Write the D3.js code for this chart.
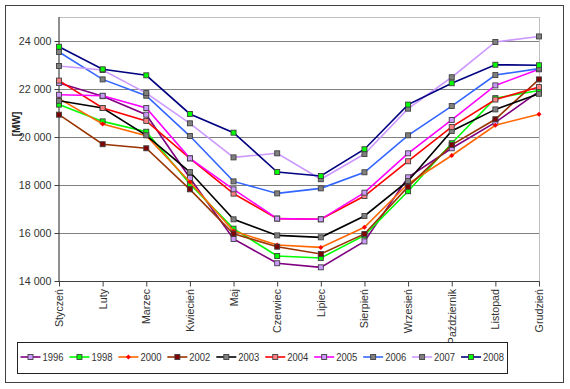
<!DOCTYPE html>
<html><head><meta charset="utf-8">
<script src="https://cdn.jsdelivr.net/npm/d3@7"></script>
<style>
html,body{margin:0;padding:0;background:#fff;}
svg{display:block;font-family:"Liberation Sans",Arial,sans-serif;}
</style></head>
<body>
<svg id="chart" width="570" height="389"></svg>
<script>
const months = ["Styczeń","Luty","Marzec","Kwiecień","Maj","Czerwiec","Lipiec","Sierpień","Wrzesień","Październik","Listopad","Grudzień"];
const yTicks = [14000,16000,18000,20000,22000,24000];
const seriesNames = ["1996","1998","2000","2002","2003","2004","2005","2006","2007","2008"];
const y1996 = [22250,21700,20930,18290,15750,14740,14570,15650,18320,19530,20610,21900];
const y1998 = [21350,20650,20220,18040,16180,15040,14960,15900,17740,19740,21620,21940];
const y2000 = [21600,20540,20050,18125,16080,15500,15400,16240,18050,19230,20490,20950];
const y2002 = [20930,19700,19530,17820,15970,15430,15125,15960,17930,19670,20740,22400];
const y2003 = [21510,21210,20070,18540,16570,15900,15820,16710,18170,20250,21150,21800];
const y2004 = [22350,21210,20670,19110,17640,16600,16570,17540,18990,20420,21560,22080];
const y2005 = [21760,21720,21210,19110,17820,16600,16570,17680,19320,20710,22150,22820];
const y2006 = [23540,22400,21720,20040,18150,17650,17860,18530,20070,21290,22580,22850];
const y2007 = [22960,22790,21830,20570,19150,19320,18240,19290,21180,22490,23960,24190];
const y2008 = [23760,22820,22570,20960,20180,18540,18375,19490,21350,22240,23010,22990];
const seriesValues = [y1996,y1998,y2000,y2002,y2003,y2004,y2005,y2006,y2007,y2008];

const styles = {
  "1996":{line:"#800080",fill:"#cc99ff",shape:"square"},
  "1998":{line:"#00ff00",fill:"#00ff00",shape:"square"},
  "2000":{line:"#ff6600",fill:"#ff0000",shape:"diamond"},
  "2002":{line:"#993300",fill:"#800000",shape:"square"},
  "2003":{line:"#000000",fill:"#808080",shape:"square"},
  "2004":{line:"#ff0000",fill:"#ff8080",shape:"square"},
  "2005":{line:"#ff00ff",fill:"#cc99ff",shape:"square"},
  "2006":{line:"#3366ff",fill:"#808080",shape:"square"},
  "2007":{line:"#cc99ff",fill:"#808080",shape:"square"},
  "2008":{line:"#000080",fill:"#00ff00",shape:"square"}
};

const svg = d3.select("#chart");
const L=59, R=539, T=17, B=281;
svg.append("rect").attr("x",5.5).attr("y",5.5).attr("width",558).attr("height",377)
  .attr("fill","#fff").attr("stroke","#404040").attr("stroke-width",1);

const x = d3.scalePoint().domain(months).range([L,R]);
const y = d3.scaleLinear().domain([14000,25000]).range([B,T]);

// plot area border
svg.append("rect").attr("x",L).attr("y",T+0.5).attr("width",R-L+0.5).attr("height",B-T)
  .attr("fill","none").attr("stroke","#c0c0c0").attr("stroke-width",1);

// gridlines
svg.append("g").selectAll("line").data(yTicks.filter(d=>d>14000)).join("line")
  .attr("x1",L).attr("x2",R).attr("y1",d=>Math.round(y(d))+0.5).attr("y2",d=>Math.round(y(d))+0.5)
  .attr("stroke","#808080").attr("stroke-width",1);

// y axis
const yAxis = svg.append("g").attr("transform",`translate(${L+0.5},0)`)
  .call(d3.axisLeft(y).tickValues(yTicks).tickSize(5).tickPadding(3)
    .tickFormat(d=>d3.format(",")(d).replace(",", " ")));
yAxis.select(".domain").attr("stroke","#404040").attr("d",`M-0.5,${T}V${B}`);
yAxis.selectAll(".tick line").attr("stroke","#404040");
yAxis.selectAll("text").attr("font-size","10.7px").attr("fill","#333").attr("font-family","Liberation Sans, Arial, sans-serif");

// x axis
const xAxis = svg.append("g").attr("transform",`translate(0,${B+0.5})`)
  .call(d3.axisBottom(x).tickSize(5).tickFormat(""));
xAxis.select(".domain").attr("stroke","#404040").attr("d",`M${L},0H${R+0.5}`);
xAxis.selectAll(".tick line").attr("stroke","#404040");
svg.append("g").selectAll("text").data(months).join("text")
  .attr("transform",d=>`translate(${x(d)+4},${B+8}) rotate(-90)`)
  .attr("text-anchor","end").attr("font-size","10.7px").attr("fill","#333")
  .text(d=>d);

// y label
svg.append("text").attr("transform","translate(20,124) rotate(-90)")
  .attr("text-anchor","middle").attr("font-size","10px").attr("font-weight","bold").attr("fill","#222")
  .text("[MW]");

const lineGen = d3.line().x((d,i)=>x(months[i])).y(d=>y(d));

function marker(g, s, cx, cy){
  if(s.shape==="diamond"){
    g.append("path").attr("d",`M${cx},${cy-2.5}L${cx+2.5},${cy}L${cx},${cy+2.5}L${cx-2.5},${cy}Z`)
      .attr("fill",s.fill);
  } else {
    g.append("rect").attr("x",cx-2.5).attr("y",cy-2.5).attr("width",5).attr("height",5)
      .attr("fill",s.fill).attr("stroke","#404040").attr("stroke-width",0.9);
  }
}

seriesNames.forEach((name,k)=>{
  const s = styles[name];
  const g = svg.append("g");
  g.append("path").datum(seriesValues[k]).attr("d",lineGen)
    .attr("fill","none").attr("stroke",s.line).attr("stroke-width",1.6);
  seriesValues[k].forEach((v,i)=>marker(g,s,x(months[i]),y(v)));
});

// legend
const lg = svg.append("g");
lg.append("rect").attr("x",17.5).attr("y",342.5).attr("width",490).attr("height",31)
  .attr("fill","#fff").attr("stroke","#222").attr("stroke-width",1);
seriesNames.forEach((name,k)=>{
  const s = styles[name];
  const x0 = 20.5 + k*48.95, cy = 357;
  lg.append("line").attr("x1",x0).attr("x2",x0+20).attr("y1",cy).attr("y2",cy)
    .attr("stroke",s.line).attr("stroke-width",1.6);
  marker(lg,s,x0+10,cy);
  lg.append("text").attr("x",x0+22).attr("y",cy+4).attr("font-size","10.7px").attr("fill","#333")
    .attr("textLength",21).attr("lengthAdjust","spacingAndGlyphs").text(name);
});
</script>
</body></html>
